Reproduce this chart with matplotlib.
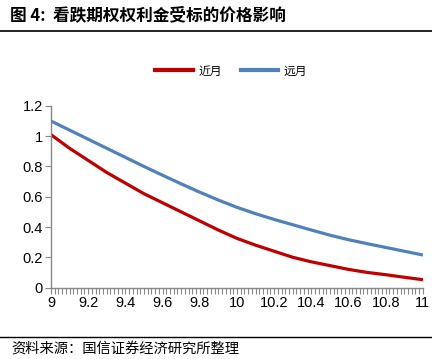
import matplotlib.pyplot as plt
from matplotlib.lines import Line2D
import numpy as np

plt.rcParams['font.family'] = ['Liberation Sans', 'Noto Sans CJK SC', 'DejaVu Sans']

# 标的价格
price = [9.0, 9.1, 9.2, 9.3, 9.4, 9.5, 9.6, 9.7, 9.8, 9.9, 10.0,
         10.1, 10.2, 10.3, 10.4, 10.5, 10.6, 10.7, 10.8, 10.9, 11.0]
# 近月 / 远月 看跌期权权利金
near = [1.01, 0.92, 0.84, 0.76, 0.69, 0.62, 0.56, 0.50, 0.44, 0.38, 0.325,
        0.28, 0.24, 0.20, 0.17, 0.145, 0.12, 0.10, 0.085, 0.068, 0.052]
far = [1.10, 1.04, 0.98, 0.92, 0.86, 0.80, 0.742, 0.685, 0.63, 0.578, 0.53,
       0.488, 0.45, 0.415, 0.38, 0.346, 0.316, 0.29, 0.265, 0.24, 0.215]

xticks = [9, 9.2, 9.4, 9.6, 9.8, 10, 10.2, 10.4, 10.6, 10.8, 11]
xlabels = ['9', '9.2', '9.4', '9.6', '9.8', '10', '10.2', '10.4', '10.6', '10.8', '11']
yticks = [0, 0.2, 0.4, 0.6, 0.8, 1, 1.2]
ylabels = ['0', '0.2', '0.4', '0.6', '0.8', '1', '1.2']

red = '#C00000'
blue = '#4F81BD'

fig = plt.figure(figsize=(4.32, 3.59), dpi=100)
ax = fig.add_axes([0.118, 0.199, 0.861, 0.506])

ax.plot(price, near, color=red, lw=2.3, solid_capstyle='butt')
ax.plot(price, far, color=blue, lw=2.3, solid_capstyle='butt')

ax.set_xlim(9, 11)
ax.set_ylim(0, 1.2)
ax.set_xticks(xticks)
ax.set_xticklabels(xlabels, fontsize=10.5)
ax.set_xticks(np.arange(9, 11.001, 0.02), minor=True)
ax.set_yticks(yticks)
ax.set_yticklabels(ylabels, fontsize=10.5)

for s in ['top', 'right']:
    ax.spines[s].set_visible(False)
for s in ['left', 'bottom']:
    ax.spines[s].set_color('#888888')
    ax.spines[s].set_linewidth(1.0)
ax.tick_params(axis='x', which='both', direction='out', length=4, width=0.8,
               color='#888888', pad=2)
ax.tick_params(axis='y', direction='out', length=4, width=0.8, color='#888888', pad=2)

handles = [Line2D([], [], color=red, lw=3), Line2D([], [], color=blue, lw=3)]
fig.legend(handles, ['近月', '远月'], loc='center', bbox_to_anchor=(0.535, 1 - 71 / 359),
           ncol=2, frameon=False, handlelength=3.2, handletextpad=0.45,
           columnspacing=1.6, prop={'family': 'Noto Sans CJK SC', 'size': 8.5})

# 标题和来源
fig.text(0.023, 1 - 15 / 359, '图 4:  看跌期权权利金受标的价格影响', fontsize=12,
         fontweight='bold', va='center', ha='left',
         family=['Noto Sans CJK SC', 'DejaVu Sans'])
fig.add_artist(Line2D([0, 1], [1 - 31 / 359, 1 - 31 / 359], color='black', lw=1.2))
fig.add_artist(Line2D([0, 1], [1 - 337 / 359, 1 - 337 / 359], color='black', lw=1.0))
fig.text(0.025, 1 - 350 / 359, '资料来源：国信证券经济研究所整理', fontsize=10.3,
         va='center', ha='left', family=['Noto Sans CJK SC', 'DejaVu Sans'])

fig.savefig('out.png', dpi=100)
